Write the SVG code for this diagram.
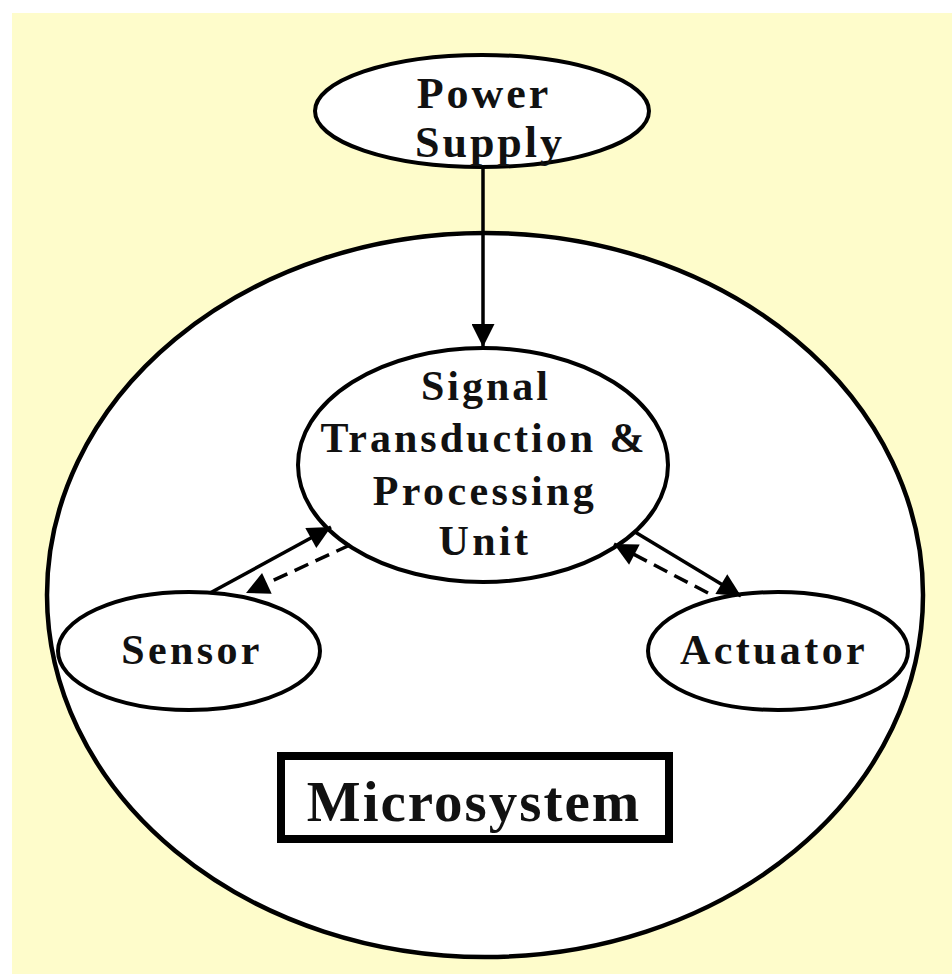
<svg xmlns="http://www.w3.org/2000/svg" width="952" height="974" viewBox="0 0 952 974">
  <style>
    .node { fill: #ffffff; stroke: #000000; }
    .lbl { font-family: "Liberation Serif", "Times New Roman", serif; font-weight: bold; fill: #111111; text-anchor: middle; }
    .conn { stroke: #000000; stroke-width: 3.5; fill: none; }
    .dash { stroke-dasharray: 15 8; }
  </style>
  <defs>
    <marker id="arrow" viewBox="0 0 10 10" refX="10" refY="5" markerUnits="userSpaceOnUse" markerWidth="27" markerHeight="23" orient="auto">
      <path d="M0,0 L10,5 L0,10 Z" fill="#000000"/>
    </marker>
  </defs>
  <rect x="0" y="0" width="952" height="974" fill="#ffffff"/>
  <rect x="12" y="13" width="940" height="961" fill="#fefccb"/>

  <g id="microsystem">
    <ellipse class="node" cx="485" cy="595" rx="438" ry="362" stroke-width="4.5"/>
    <rect x="281" y="756" width="388" height="83" fill="#ffffff" stroke="#000000" stroke-width="8"/>
    <text class="lbl" x="474" y="821" font-size="57" letter-spacing="2">Microsystem</text>
  </g>

  <g id="power-supply">
    <ellipse class="node" cx="482" cy="111" rx="167" ry="56" stroke-width="4"/>
    <text class="lbl" x="484" y="108" font-size="44" letter-spacing="3">Power</text>
    <text class="lbl" x="490" y="157" font-size="44" letter-spacing="3">Supply</text>
  </g>

  <g id="signal-unit">
    <ellipse class="node" cx="483" cy="465" rx="185" ry="117" stroke-width="4"/>
    <text class="lbl" x="486" y="400" font-size="42" letter-spacing="3">Signal</text>
    <text class="lbl" x="484" y="452" font-size="42" letter-spacing="3">Transduction &amp;</text>
    <text class="lbl" x="485" y="505" font-size="42" letter-spacing="3.4">Processing</text>
    <text class="lbl" x="485" y="555" font-size="42" letter-spacing="3.4">Unit</text>
  </g>

  <g id="sensor">
    <ellipse class="node" cx="189" cy="651" rx="131" ry="59" stroke-width="4"/>
    <text class="lbl" x="192" y="664" font-size="42" letter-spacing="3.4">Sensor</text>
  </g>

  <g id="actuator">
    <ellipse class="node" cx="778" cy="651" rx="130" ry="59" stroke-width="4"/>
    <text class="lbl" x="774" y="664" font-size="42" letter-spacing="3.4">Actuator</text>
  </g>

  <g id="connectors">
    <line class="conn" x1="483" y1="167" x2="483" y2="347" stroke-width="2.5" marker-end="url(#arrow)"/>
    <line class="conn" x1="210" y1="593" x2="331" y2="527" marker-end="url(#arrow)"/>
    <line class="conn dash" x1="350" y1="545" x2="246" y2="593" marker-end="url(#arrow)"/>
    <line class="conn" x1="635" y1="532" x2="741" y2="596" marker-end="url(#arrow)"/>
    <line class="conn dash" x1="708" y1="593" x2="614" y2="544" marker-end="url(#arrow)"/>
  </g>
</svg>
